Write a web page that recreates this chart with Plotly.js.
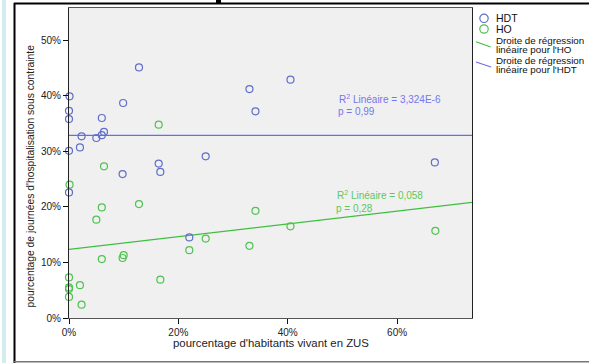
<!DOCTYPE html>
<html><head><meta charset="utf-8">
<script src="https://cdn.plot.ly/plotly-3.0.1.min.js"></script>
<style>html,body{margin:0;padding:0;background:#fff}#c{width:589px;height:363px}</style>
</head><body><div id="c"></div>
<script>
// HDT series
const hdtX = [12.8, 0.1, 0, 0, 9.9, 6.0, 6.4, 6.0, 5.0, 2.3, 2.0, 0, 16.4, 16.7, 9.8, 25.0, 33.0, 34.1, 40.5, 66.9, 0, 22.0];
const hdtY = [45.1, 39.9, 37.3, 35.8, 38.7, 36.0, 33.5, 32.9, 32.4, 32.7, 30.7, 30.1, 27.8, 26.3, 25.9, 29.1, 41.2, 37.2, 42.9, 28.0, 22.6, 14.5];
// HO series
const hoX = [16.4, 6.4, 0.1, 6.0, 12.8, 5.0, 34.1, 22.0, 25.0, 33.0, 40.5, 6.0, 9.8, 10.0, 16.7, 0, 0, 0, 0, 2.0, 2.3, 67.0];
const hoY = [34.8, 27.3, 24.0, 19.9, 20.5, 17.7, 19.3, 12.2, 14.3, 13.0, 16.5, 10.6, 10.8, 11.3, 6.9, 7.3, 5.5, 5.2, 3.8, 5.9, 2.4, 15.7];
// regression lines
const regX = [0, 73.7];
const regHOY = [12.36, 20.8];
const regHDTY = [32.87, 32.87];
// labels
const seriesNames = ["HDT", "HO"];
const regNames = ["Droite de régression", "linéaire pour l'HO", "Droite de régression", "linéaire pour l'HDT"];
const statsHDT = ["R<sup>2</sup> Linéaire = 3,324E-6", "p = 0,99"];
const statsHO = ["R<sup>2</sup> Linéaire = 0,058", "p = 0,28"];
const xTicks = [0, 20, 40, 60];
const yTicks = [0, 10, 20, 30, 40, 50];
const xTitle = "pourcentage d'habitants vivant en ZUS";
const yTitle = "pourcentage de journées d'hospitalisation sous contrainte";

const FONT = 'Arial, "Liberation Sans", sans-serif';
const BLUE_M = '#5f6fc9', GREEN_M = '#4fc24f';
const BLUE_L = '#6a6aee', GREEN_L = '#3fbf3f';
const BLUE_T = '#7676ee', GREEN_T = '#5cc95c';

// pixel -> paper helpers (plot area: x 69..472, y 8..318)
const L = 69, R = 117, T = 8, B = 45, W = 589, H = 363;
const PW = W - L - R, PH = H - T - B;
const px = x => (x - L) / PW;
const py = y => (H - B - y) / PH;

const traces = [
  {x: regX, y: regHOY, mode: 'lines', line: {color: GREEN_L, width: 1.2}, cliponaxis: true},
  {x: regX, y: regHDTY, mode: 'lines', line: {color: BLUE_L, width: 1.2}, cliponaxis: true},
  {x: hoX, y: hoY, mode: 'markers', cliponaxis: false,
   marker: {symbol: 'circle-open', size: 7, color: GREEN_M, line: {width: 1.2, color: GREEN_M}}},
  {x: hdtX, y: hdtY, mode: 'markers', cliponaxis: false,
   marker: {symbol: 'circle-open', size: 7, color: BLUE_M, line: {width: 1.2, color: BLUE_M}}}
];

const ann = [];
const txt = (x, y, text, color, size, extra) => Object.assign({
  xref: 'paper', yref: 'paper', x: px(x), y: py(y), text: text, showarrow: false,
  xanchor: 'left', yanchor: 'middle', font: {family: FONT, size: size, color: color}}, extra || {});
// stats
ann.push({xref: 'x', yref: 'y', x: 49.1, y: 39.5, text: statsHDT[0], showarrow: false, xanchor: 'left', yanchor: 'middle', font: {family: FONT, size: 10, color: BLUE_T}});
ann.push({xref: 'x', yref: 'y', x: 48.8, y: 37.1, text: statsHDT[1], showarrow: false, xanchor: 'left', yanchor: 'middle', font: {family: FONT, size: 10, color: BLUE_T}});
ann.push({xref: 'x', yref: 'y', x: 48.7, y: 22.1, text: statsHO[0], showarrow: false, xanchor: 'left', yanchor: 'middle', font: {family: FONT, size: 10, color: GREEN_T}});
ann.push({xref: 'x', yref: 'y', x: 48.5, y: 19.7, text: statsHO[1], showarrow: false, xanchor: 'left', yanchor: 'middle', font: {family: FONT, size: 10, color: GREEN_T}});
// legend texts
ann.push(txt(494, 18.5, seriesNames[0], '#111', 10.5));
ann.push(txt(494, 29.5, seriesNames[1], '#111', 10.5));
ann.push(txt(494, 40.3, regNames[0], '#111', 9.8));
ann.push(txt(494, 49.7, regNames[1], '#111', 9.8));
ann.push(txt(494, 60.3, regNames[2], '#111', 9.8));
ann.push(txt(494, 69.7, regNames[3], '#111', 9.8));
// axis titles
ann.push(txt(271, 343, xTitle, '#222', 11.4, {xanchor: 'center'}));
ann.push(txt(30, 176.5, yTitle, '#222', 10.3, {xanchor: 'center', textangle: -90}));

const shapes = [
  // legend glyphs
  {type: 'circle', xref: 'paper', yref: 'paper', xsizemode: 'pixel', ysizemode: 'pixel',
   xanchor: px(484), yanchor: py(18.3), x0: -4.2, x1: 4.2, y0: -4.2, y1: 4.2, line: {color: BLUE_M, width: 1.2}},
  {type: 'circle', xref: 'paper', yref: 'paper', xsizemode: 'pixel', ysizemode: 'pixel',
   xanchor: px(484), yanchor: py(29), x0: -4.2, x1: 4.2, y0: -4.2, y1: 4.2, line: {color: GREEN_M, width: 1.2}},
  {type: 'line', xref: 'paper', yref: 'paper', x0: px(476), y0: py(41.7), x1: px(490.7), y1: py(47), line: {color: GREEN_L, width: 1.2}},
  {type: 'line', xref: 'paper', yref: 'paper', x0: px(476), y0: py(62), x1: px(491), y1: py(67), line: {color: BLUE_L, width: 1.2}},
  // outer frame
  {type: 'rect', xref: 'paper', yref: 'paper', x0: px(2), x1: px(6), y0: py(363), y1: py(0), fillcolor: '#d4ecf0', line: {width: 0}, layer: 'below'},
  {type: 'line', xref: 'paper', yref: 'paper', x0: px(14.5), x1: px(14.5), y0: py(3), y1: py(363), line: {color: '#000', width: 2}},
  {type: 'line', xref: 'paper', yref: 'paper', x0: px(14), x1: px(589), y0: py(3.5), y1: py(3.5), line: {color: '#000', width: 2}},
  {type: 'rect', xref: 'paper', yref: 'paper', x0: px(216), x1: px(221), y0: py(4), y1: py(0), fillcolor: '#000', line: {width: 0}},
  {type: 'line', xref: 'paper', yref: 'paper', x0: px(14), x1: px(589), y0: py(361.7), y1: py(361.7), line: {color: '#777', width: 1.5}}
];

const axisCommon = {
  ticks: 'outside', ticklen: 5, tickwidth: 1, tickcolor: '#111',
  showgrid: false, zeroline: false, showline: true, mirror: true, linecolor: '#555', linewidth: 1,
  tickfont: {family: FONT, size: 10, color: '#222'}, fixedrange: true
};

const layout = {
  width: W, height: H,
  margin: {l: L, r: R, t: T, b: B, pad: 0},
  paper_bgcolor: '#fff', plot_bgcolor: '#f0f0f0',
  showlegend: false,
  xaxis: Object.assign({}, axisCommon, {range: [0, 73.7], tickmode: 'array', tickvals: xTicks, ticktext: xTicks.map(v => v + '%')}),
  yaxis: Object.assign({}, axisCommon, {range: [0, 55.8], tickmode: 'array', tickvals: yTicks, ticktext: yTicks.map(v => v + '%'), linecolor: '#222'}),
  annotations: ann,
  shapes: shapes
};

Plotly.newPlot('c', traces, layout, {displayModeBar: false, staticPlot: true});
</script>
</body></html>
